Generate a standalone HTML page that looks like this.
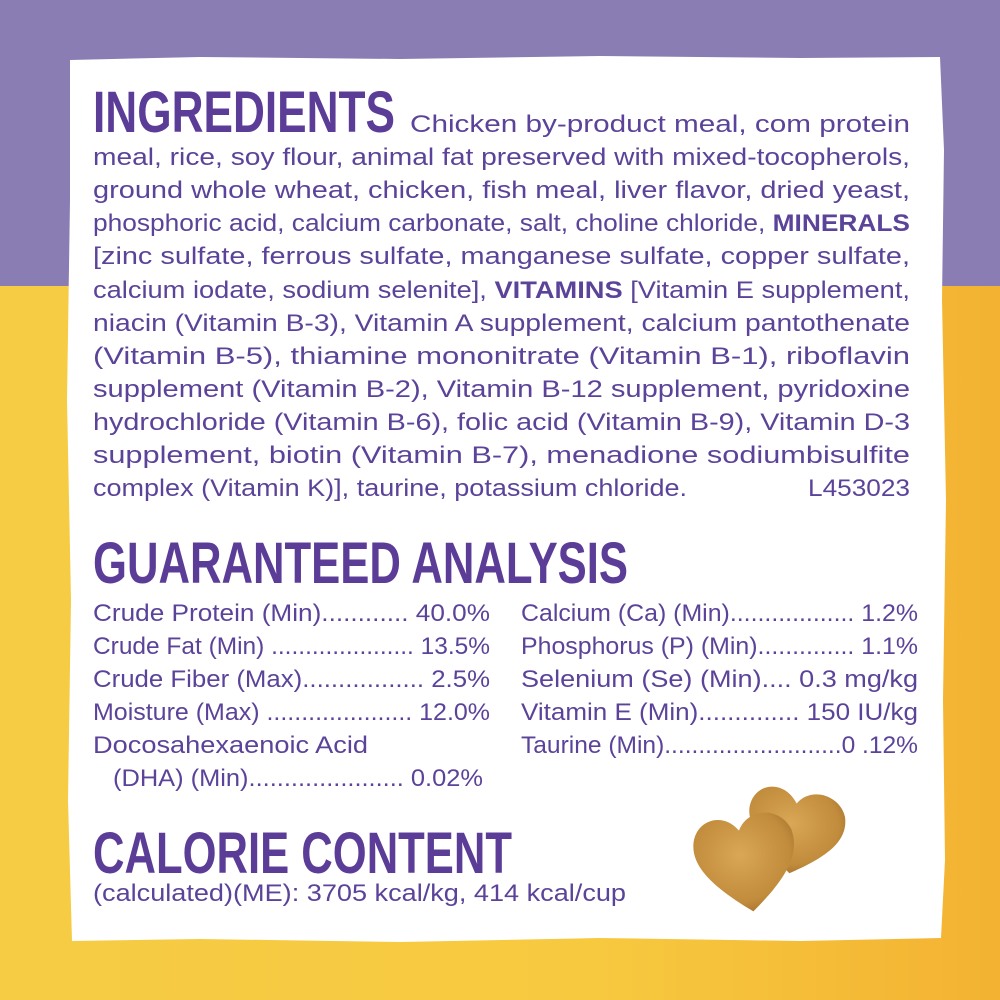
<!DOCTYPE html>
<html><head><meta charset="utf-8"><style>
html,body{margin:0;padding:0;width:1000px;height:1000px;overflow:hidden}
svg{display:block}
.b{font-family:"Liberation Sans",sans-serif;font-size:24px;fill:#5b4399}
.h{font-family:"Liberation Sans Narrow","Liberation Sans",sans-serif;font-weight:bold;font-size:58px;fill:#5b3d98}
</style></head><body>
<svg width="1000" height="1000" viewBox="0 0 1000 1000">
<defs>
<linearGradient id="y" x1="0" x2="1" y1="0" y2="0">
<stop offset="0" stop-color="#f6cc45"/><stop offset="0.6" stop-color="#f7c93f"/><stop offset="1" stop-color="#f3b232"/>
</linearGradient>
<radialGradient id="ck" cx="0.45" cy="0.4" r="0.7">
<stop offset="0" stop-color="#d9a755"/><stop offset="0.7" stop-color="#c18c3c"/><stop offset="1" stop-color="#9c6a2a"/>
</radialGradient>
</defs>
<rect x="0" y="0" width="1000" height="286" fill="#8a7db4"/>
<rect x="0" y="286" width="1000" height="714" fill="url(#y)"/>
<polygon fill="#fff" points="70,60 200,57 400,59 600,56 800,58 940,57 944,150 942,300 946,500 943,700 945,860 941,938 800,941 600,938 400,942 200,939 72,941 68,800 71,600 67,400 70,200"/>
<text class="h" x="93" y="132" textLength="302" lengthAdjust="spacingAndGlyphs">INGREDIENTS</text>
<g class="b">
<text x="410" y="132" textLength="500" lengthAdjust="spacingAndGlyphs">Chicken by-product meal, com protein</text>
<text x="93" y="165" textLength="817" lengthAdjust="spacingAndGlyphs">meal, rice, soy flour, animal fat preserved with mixed-tocopherols,</text>
<text x="93" y="198" textLength="817" lengthAdjust="spacingAndGlyphs">ground whole wheat, chicken, fish meal, liver flavor, dried yeast,</text>
<text x="93" y="231" textLength="817" lengthAdjust="spacingAndGlyphs">phosphoric acid, calcium carbonate, salt, choline chloride, <tspan font-weight="bold">MINERALS</tspan></text>
<text x="93" y="264" textLength="817" lengthAdjust="spacingAndGlyphs">[zinc sulfate, ferrous sulfate, manganese sulfate, copper sulfate,</text>
<text x="93" y="298" textLength="817" lengthAdjust="spacingAndGlyphs">calcium iodate, sodium selenite], <tspan font-weight="bold">VITAMINS</tspan> [Vitamin E supplement,</text>
<text x="93" y="331" textLength="817" lengthAdjust="spacingAndGlyphs">niacin (Vitamin B-3), Vitamin A supplement, calcium pantothenate</text>
<text x="93" y="364" textLength="817" lengthAdjust="spacingAndGlyphs">(Vitamin B-5), thiamine mononitrate (Vitamin B-1), riboflavin</text>
<text x="93" y="397" textLength="817" lengthAdjust="spacingAndGlyphs">supplement (Vitamin B-2), Vitamin B-12 supplement, pyridoxine</text>
<text x="93" y="430" textLength="817" lengthAdjust="spacingAndGlyphs">hydrochloride (Vitamin B-6), folic acid (Vitamin B-9), Vitamin D-3</text>
<text x="93" y="463" textLength="817" lengthAdjust="spacingAndGlyphs">supplement, biotin (Vitamin B-7), menadione sodiumbisulfite</text>
<text x="93" y="496" textLength="594" lengthAdjust="spacingAndGlyphs">complex (Vitamin K)], taurine, potassium chloride.</text>
<text x="808" y="496" textLength="102" lengthAdjust="spacingAndGlyphs">L453023</text>
</g>
<text class="h" x="93" y="583" textLength="535" lengthAdjust="spacingAndGlyphs">GUARANTEED ANALYSIS</text>
<g class="b">
<text x="93" y="621" textLength="397" lengthAdjust="spacingAndGlyphs">Crude Protein (Min)............ 40.0%</text>
<text x="93" y="654" textLength="397" lengthAdjust="spacingAndGlyphs">Crude Fat (Min) ..................... 13.5%</text>
<text x="93" y="687" textLength="397" lengthAdjust="spacingAndGlyphs">Crude Fiber (Max)................. 2.5%</text>
<text x="93" y="720" textLength="397" lengthAdjust="spacingAndGlyphs">Moisture (Max) ..................... 12.0%</text>
<text x="93" y="753" textLength="275" lengthAdjust="spacingAndGlyphs">Docosahexaenoic Acid</text>
<text x="113" y="786" textLength="370" lengthAdjust="spacingAndGlyphs">(DHA) (Min)...................... 0.02%</text>
<text x="521" y="621" textLength="397" lengthAdjust="spacingAndGlyphs">Calcium (Ca) (Min).................. 1.2%</text>
<text x="521" y="654" textLength="397" lengthAdjust="spacingAndGlyphs">Phosphorus (P) (Min).............. 1.1%</text>
<text x="521" y="687" textLength="397" lengthAdjust="spacingAndGlyphs">Selenium (Se) (Min).... 0.3 mg/kg</text>
<text x="521" y="720" textLength="397" lengthAdjust="spacingAndGlyphs">Vitamin E (Min).............. 150 IU/kg</text>
<text x="521" y="753" textLength="397" lengthAdjust="spacingAndGlyphs">Taurine (Min)..........................0 .12%</text>
</g>
<text class="h" x="93" y="873" textLength="419" lengthAdjust="spacingAndGlyphs">CALORIE CONTENT</text>
<text class="b" x="93" y="901" textLength="533" lengthAdjust="spacingAndGlyphs">(calculated)(ME): 3705 kcal/kg, 414 kcal/cup</text>
<g>
<path fill="url(#ck)" transform="translate(750,780) rotate(10)" d="M55,85 C20,60 0,40 5,20 C10,0 35,-5 50,15 C62,-5 92,0 100,20 C108,45 85,65 55,85 Z"/>
<path fill="url(#ck)" transform="translate(685,820) rotate(-8)" d="M55,100 C20,72 0,48 5,25 C10,2 38,-4 52,18 C64,-4 96,0 104,24 C110,52 88,75 55,100 Z"/>
</g>
</svg>
</body></html>
